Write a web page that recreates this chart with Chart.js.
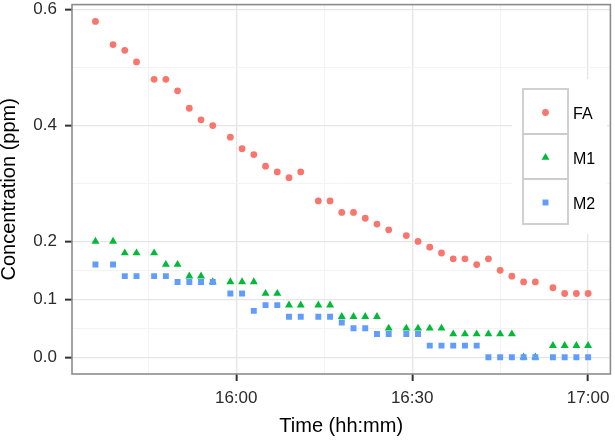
<!DOCTYPE html>
<html>
<head>
<meta charset="utf-8">
<script src="https://cdn.jsdelivr.net/npm/chart.js@4.4.0/dist/chart.umd.min.js"></script>
<style>
  html, body { margin: 0; padding: 0; background: #fff; }
  canvas { display: block; }
</style>
</head>
<body>
<canvas id="chart" width="615" height="440"></canvas>
<script>
// sample times (hh:mm)
const times = [
  '15:36', '15:39', '15:41', '15:43', '15:46', '15:48', '15:50', '15:52', '15:54', '15:56',
  '15:59', '16:01', '16:03', '16:05', '16:07', '16:09', '16:11', '16:14', '16:16', '16:18',
  '16:20', '16:22', '16:24', '16:26', '16:29', '16:31', '16:33', '16:35', '16:37', '16:39',
  '16:41', '16:43', '16:45', '16:47', '16:49', '16:51', '16:54', '16:56', '16:58', '17:00'
];

const faValues = [
  0.58, 0.54, 0.53, 0.51, 0.48, 0.48, 0.46, 0.43, 0.41, 0.40,
  0.38, 0.36, 0.35, 0.33, 0.32, 0.31, 0.32, 0.27, 0.27, 0.25,
  0.25, 0.24, 0.23, 0.22, 0.21, 0.20, 0.19, 0.18, 0.17, 0.17,
  0.16, 0.17, 0.15, 0.14, 0.13, 0.13, 0.12, 0.11, 0.11, 0.11
];

const m1Values = [
  0.20, 0.20, 0.18, 0.18, 0.18, 0.16, 0.16, 0.14, 0.14, 0.13,
  0.13, 0.13, 0.13, 0.11, 0.11, 0.09, 0.09, 0.09, 0.09, 0.07,
  0.07, 0.07, 0.07, 0.05, 0.05, 0.05, 0.05, 0.05, 0.04, 0.04,
  0.04, 0.04, 0.04, 0.04, 0.00, 0.00, 0.02, 0.02, 0.02, 0.02
];

const m2Values = [
  0.16, 0.16, 0.14, 0.14, 0.14, 0.14, 0.13, 0.13, 0.13, 0.13,
  0.11, 0.11, 0.08, 0.09, 0.09, 0.07, 0.07, 0.07, 0.07, 0.06,
  0.05, 0.05, 0.04, 0.04, 0.04, 0.04, 0.02, 0.02, 0.02, 0.02,
  0.02, 0.00, 0.00, 0.00, 0.00, 0.00, 0.00, 0.00, 0.00, 0.00
];

const seriesNames = ['FA', 'M1', 'M2'];
const seriesColors = ['#F8766D', '#00BA38', '#619CFF'];

const xTickLabels = ['16:00', '16:30', '17:00'];
const xMinorTicks = ['15:45', '16:15', '16:45'];
const yTickLabels = [0.0, 0.1, 0.2, 0.4, 0.6];
const yMinorTicks = [0.05, 0.15, 0.3, 0.5];

const FONT = "'Liberation Sans', Arial, Helvetica, sans-serif";

// minutes relative to 16:00
function toMinutes(t) {
    const [h, m] = t.split(':').map(Number);
    return (h - 16) * 60 + m;
}

function fmtTime(v) {
    const total = 16 * 60 + Math.round(v);
    const h = Math.floor(total / 60);
    const m = total % 60;
    return `${h}:${String(m).padStart(2, '0')}`;
}

const toPoints = vals => vals.map((v, i) => ({ x: toMinutes(times[i]), y: v }));

const xMajor = xTickLabels.map(toMinutes);
const xAll = xMajor.concat(xMinorTicks.map(toMinutes)).sort((a, b) => a - b);
const yAll = yTickLabels.concat(yMinorTicks).sort((a, b) => a - b);

const isMajorX = v => xMajor.includes(v);
const isMajorY = v => yTickLabels.some(t => Math.abs(t - v) < 1e-9);

const pointOpts = [
    { pointStyle: 'circle', radius: 3.4 },
    { pointStyle: 'triangle', radius: 4.6 },
    { pointStyle: 'rect', radius: 4.2 }
];

// panel border drawn on top, like ggplot's theme_bw
const panelBorder = {
    id: 'panelBorder',
    afterDatasetsDraw(chart) {
        const { ctx, chartArea: a } = chart;
        ctx.save();
        ctx.strokeStyle = '#8c8c8c';
        ctx.lineWidth = 1.6;
        ctx.strokeRect(a.left, a.top, a.right - a.left, a.bottom - a.top);
        ctx.restore();
    }
};

// legend inside the panel with boxed keys
const boxLegend = {
    id: 'boxLegend',
    afterDatasetsDraw(chart) {
        const ctx = chart.ctx;
        const keyX = 523, keyTop = 89, keySize = 45;
        ctx.save();
        ctx.fillStyle = '#fff';
        ctx.fillRect(512, 79, 95, 155);
        seriesNames.forEach((name, i) => {
            const y0 = keyTop + i * keySize;
            ctx.strokeStyle = '#cccccc';
            ctx.lineWidth = 1.8;
            ctx.strokeRect(keyX, y0, keySize, keySize);
            ctx.fillStyle = seriesColors[i];
            Chart.helpers.drawPoint(ctx, {
                pointStyle: pointOpts[i].pointStyle,
                radius: pointOpts[i].radius,
                rotation: 0,
                borderWidth: 0
            }, keyX + keySize / 2, y0 + keySize / 2 + 1);
            ctx.fillStyle = '#000';
            ctx.font = `16px ${FONT}`;
            ctx.textAlign = 'left';
            ctx.textBaseline = 'middle';
            ctx.fillText(name, keyX + keySize + 5, y0 + keySize / 2 + 3);
        });
        ctx.restore();
    }
};

const datasets = seriesNames.map((name, i) => ({
    label: name,
    data: toPoints([faValues, m1Values, m2Values][i]),
    backgroundColor: seriesColors[i],
    borderWidth: 0,
    pointStyle: pointOpts[i].pointStyle,
    pointRadius: pointOpts[i].radius,
    pointHoverRadius: pointOpts[i].radius,
    order: 3 - i
}));

new Chart(document.getElementById('chart').getContext('2d'), {
    type: 'scatter',
    data: { datasets },
    plugins: [panelBorder, boxLegend],
    options: {
        responsive: false,
        animation: false,
        devicePixelRatio: 1,
        layout: { padding: { top: 2, right: 3, left: 0, bottom: 0 } },
        plugins: { legend: { display: false }, tooltip: { enabled: false } },
        scales: {
            x: {
                type: 'linear',
                min: -28,
                max: 63.8,
                afterBuildTicks: s => { s.ticks = xAll.map(v => ({ value: v })); },
                afterFit: s => {
                    s.height = 66;
                    s.paddingLeft = 0; s.paddingRight = 0;
                },
                border: { display: false },
                grid: {
                    color: c => isMajorX(c.tick.value) ? '#e5e5e5' : '#f3f3f3',
                    lineWidth: c => isMajorX(c.tick.value) ? 1.3 : 1,
                    tickColor: c => isMajorX(c.tick.value) ? '#333' : 'rgba(0,0,0,0)',
                    tickLength: 7,
                    tickWidth: 2
                },
                ticks: {
                    autoSkip: false,
                    maxRotation: 0,
                    padding: 7,
                    color: '#2b2b2b',
                    font: { family: FONT, size: 17 },
                    callback: v => isMajorX(v) ? fmtTime(v) : ''
                },
                title: {
                    display: true,
                    text: 'Time (hh:mm)',
                    color: '#000',
                    font: { family: FONT, size: 20 },
                    padding: { top: 0, bottom: 2 }
                }
            },
            y: {
                type: 'linear',
                min: -0.029,
                max: 0.609,
                afterBuildTicks: s => { s.ticks = yAll.map(v => ({ value: v })); },
                afterFit: s => {
                    s.width = 72;
                    s.paddingTop = 0; s.paddingBottom = 0;
                },
                border: { display: false },
                grid: {
                    color: c => isMajorY(c.tick.value) ? '#e5e5e5' : '#f3f3f3',
                    lineWidth: c => isMajorY(c.tick.value) ? 1.3 : 1,
                    tickColor: c => isMajorY(c.tick.value) ? '#333' : 'rgba(0,0,0,0)',
                    tickLength: 7,
                    tickWidth: 2
                },
                ticks: {
                    autoSkip: false,
                    padding: 8,
                    color: '#2b2b2b',
                    font: { family: FONT, size: 17 },
                    callback: v => isMajorY(v) ? v.toFixed(1) : ''
                },
                title: {
                    display: true,
                    text: 'Concentration (ppm)',
                    color: '#000',
                    font: { family: FONT, size: 20 },
                    padding: { top: -3, bottom: 0 }
                }
            }
        }
    }
});
</script>
</body>
</html>
